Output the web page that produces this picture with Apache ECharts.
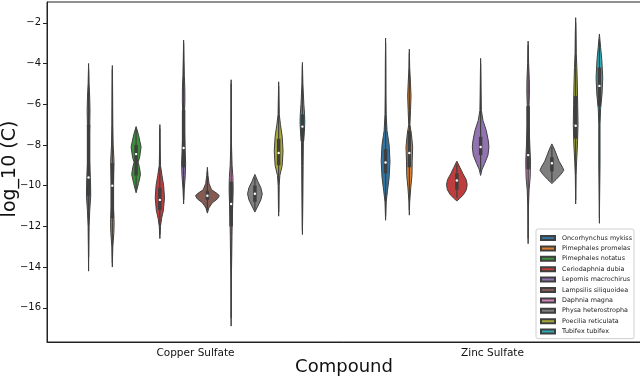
<!DOCTYPE html>
<html>
<head>
<meta charset="utf-8">
<script src="https://cdn.jsdelivr.net/npm/echarts@6/dist/echarts.min.js"></script>
<style>
    html, body { margin: 0; padding: 0; background: #fff; }
    #chart { width: 640px; height: 376px; }
</style>
</head>
<body>
<div id="chart"></div>
<script>
var compounds = ['Copper Sulfate', 'Zinc Sulfate']
var species = ['Oncorhynchus mykiss', 'Pimephales promelas', 'Pimephales notatus', 'Ceriodaphnia dubia',
    'Lepomis macrochirus', 'Lampsilis siliquoidea', 'Daphnia magna', 'Physa heterostropha',
    'Poecilia reticulata', 'Tubifex tubifex']
var yTicks = [-16, -14, -12, -10, -8, -6, -4, -2]

// violin outlines: [log_10 C, relative density width]
var copperShapes = [
    [[-4.0, 0], [-5.0, 0.04], [-5.6, 0.09], [-6.3, 0.12], [-7.0, 0.10], [-7.6, 0.06], [-8.5, 0.06], [-9.3, 0.12], [-10.0, 0.17], [-10.5, 0.18], [-11.2, 0.10], [-12.0, 0.04], [-13.0, 0.02], [-14.2, 0]],
    [[-4.1, 0], [-5.0, 0.02], [-6.0, 0.03], [-7.0, 0.04], [-8.0, 0.07], [-8.8, 0.14], [-9.3, 0.12], [-10.0, 0.09], [-11.0, 0.09], [-11.8, 0.15], [-12.3, 0.13], [-13.0, 0.04], [-14.0, 0]],
    [[-7.1, 0], [-7.5, 0.2], [-8.1, 0.42], [-8.6, 0.3], [-8.85, 0.17], [-9.1, 0.28], [-9.45, 0.37], [-9.9, 0.2], [-10.35, 0]],
    [[-7.0, 0], [-8.0, 0.02], [-9.0, 0.05], [-9.5, 0.18], [-10.0, 0.32], [-10.6, 0.39], [-11.2, 0.30], [-11.6, 0.15], [-12.0, 0.05], [-12.6, 0]],
    [[-2.85, 0], [-3.8, 0.03], [-4.6, 0.06], [-5.2, 0.10], [-5.8, 0.11], [-6.5, 0.07], [-7.3, 0.07], [-8.2, 0.12], [-8.9, 0.17], [-9.5, 0.14], [-10.2, 0.05], [-10.9, 0]],
    [[-9.1, 0], [-9.5, 0.05], [-9.9, 0.14], [-10.2, 0.35], [-10.4, 0.85], [-10.5, 1.0], [-10.65, 0.85], [-10.85, 0.4], [-11.1, 0.12], [-11.35, 0]],
    [[-4.8, 0], [-6.0, 0.01], [-7.0, 0.02], [-8.0, 0.03], [-9.0, 0.08], [-9.6, 0.15], [-10.2, 0.17], [-10.8, 0.14], [-11.5, 0.10], [-12.5, 0.07], [-13.5, 0.05], [-14.5, 0.02], [-15.5, 0.01], [-16.9, 0]],
    [[-9.45, 0], [-9.8, 0.25], [-10.1, 0.5], [-10.4, 0.62], [-10.7, 0.5], [-11.0, 0.25], [-11.3, 0]],
    [[-4.9, 0], [-5.5, 0.02], [-6.5, 0.05], [-7.0, 0.15], [-7.6, 0.30], [-8.3, 0.37], [-9.0, 0.30], [-9.5, 0.10], [-10.0, 0.04], [-11.0, 0.02], [-11.5, 0]],
    [[-3.95, 0], [-5.0, 0.04], [-6.0, 0.12], [-6.5, 0.18], [-6.9, 0.20], [-7.4, 0.16], [-7.9, 0.08], [-9.0, 0.06], [-10.5, 0.04], [-11.5, 0.02], [-12.4, 0]]
]
var zincShapes = [
    [[-2.75, 0], [-4.0, 0.02], [-5.5, 0.03], [-6.5, 0.05], [-7.3, 0.12], [-8.0, 0.30], [-8.8, 0.37], [-9.6, 0.30], [-10.3, 0.15], [-10.8, 0.05], [-11.7, 0]],
    [[-3.3, 0], [-4.2, 0.03], [-5.0, 0.10], [-5.6, 0.14], [-6.3, 0.10], [-7.0, 0.05], [-7.5, 0.18], [-8.1, 0.28], [-8.8, 0.24], [-9.5, 0.22], [-10.1, 0.12], [-10.8, 0.03], [-11.45, 0]],
    null,
    [[-8.8, 0], [-9.1, 0.25], [-9.4, 0.5], [-9.7, 0.78], [-9.95, 0.87], [-10.2, 0.8], [-10.45, 0.55], [-10.65, 0.2], [-10.75, 0]],
    [[-3.75, 0], [-4.5, 0.02], [-5.5, 0.04], [-6.3, 0.06], [-6.8, 0.2], [-7.3, 0.48], [-7.8, 0.65], [-8.1, 0.7], [-8.5, 0.62], [-8.9, 0.35], [-9.2, 0.12], [-9.5, 0]],
    null,
    [[-2.9, 0], [-4.0, 0.04], [-4.8, 0.10], [-5.4, 0.11], [-6.0, 0.08], [-7.0, 0.07], [-8.0, 0.14], [-8.8, 0.20], [-9.6, 0.17], [-10.2, 0.08], [-11.0, 0.03], [-12.0, 0.01], [-12.85, 0]],
    [[-7.95, 0], [-8.2, 0.2], [-8.5, 0.4], [-8.8, 0.6], [-9.1, 0.9], [-9.25, 1.0], [-9.45, 0.75], [-9.7, 0.35], [-9.9, 0]],
    [[-1.75, 0], [-2.5, 0.03], [-3.5, 0.05], [-4.2, 0.10], [-5.0, 0.14], [-6.0, 0.17], [-7.0, 0.20], [-8.0, 0.15], [-8.8, 0.08], [-9.5, 0.03], [-10.9, 0]],
    [[-2.55, 0], [-3.2, 0.10], [-3.8, 0.20], [-4.7, 0.28], [-5.5, 0.22], [-6.2, 0.10], [-7.0, 0.05], [-8.0, 0.05], [-9.0, 0.05], [-10.0, 0.03], [-11.0, 0.01], [-11.85, 0]]
]

// inner box: [whisker low, q1, median, q3, whisker high]
var copperBoxes = [
    [-13.5, -10.5, -9.6, -7.0, -4.3],
    [-13.8, -11.6, -10.0, -8.9, -4.3],
    [-10.2, -9.5, -8.45, -8.0, -7.2],
    [-12.4, -11.2, -10.7, -10.1, -7.2],
    [-10.7, -9.1, -8.15, -6.3, -3.0],
    [-11.2, -10.7, -10.5, -10.25, -9.3],
    [-16.5, -12.0, -10.9, -9.8, -5.0],
    [-11.2, -10.8, -10.4, -10.0, -9.6],
    [-11.3, -9.0, -8.4, -7.7, -5.1],
    [-12.2, -7.8, -7.1, -6.5, -4.1]
]
var zincBoxes = [
    [-11.5, -9.4, -8.86, -8.2, -3.0],
    [-11.2, -9.1, -8.4, -7.3, -3.5],
    null,
    [-10.6, -10.2, -9.75, -9.4, -8.95],
    [-9.3, -8.5, -8.1, -7.6, -4.0],
    null,
    [-12.6, -9.2, -8.5, -6.1, -3.1],
    [-9.8, -9.3, -8.9, -8.6, -8.1],
    [-10.7, -7.7, -7.06, -5.6, -2.0],
    [-11.6, -6.1, -5.1, -4.2, -2.8]
]

var colors = ['#3274a1', '#e1812c', '#3a923a', '#c03d3e', '#9372b2', '#845b53', '#d684bd', '#7f7f7f', '#a9aa35', '#2eabb8']
var edge = '#3f3f3f'
var shapesBy = [copperShapes, zincShapes]
var boxesBy = [copperBoxes, zincBoxes]

function renderViolin(params, api) {
    var ci = api.value(0)
    var si = params.seriesIndex
    var shape = shapesBy[ci][si]
    var box = boxesBy[ci][si]
    var band = api.size([1, 0])[0]
    var slot = band * 0.8 / species.length
    var cx = api.coord([ci, 0])[0] + (si - (species.length - 1) / 2) * slot
    var half = slot / 2
    var right = [], left = []
    shape.forEach(function (p) {
        var y = api.coord([ci, p[0]])[1]
        right.push([cx + p[1] * half, y])
        left.unshift([cx - p[1] * half, y])
    })
    var yOf = function (v) { return api.coord([ci, v])[1] }
    return {
        type: 'group',
        children: [
            {type: 'polygon', shape: {points: right.concat(left)}, style: {fill: colors[si], stroke: edge, lineWidth: 1}},
            {type: 'line', shape: {x1: cx, y1: yOf(box[0]), x2: cx, y2: yOf(box[4])}, style: {stroke: edge, lineWidth: 1.2}},
            {type: 'line', shape: {x1: cx, y1: yOf(box[1]), x2: cx, y2: yOf(box[3])}, style: {stroke: edge, lineWidth: 3.5}},
            {type: 'circle', shape: {cx: cx, cy: yOf(box[2]), r: 1.2}, style: {fill: '#fff'}}
        ]
    }
}

var series = species.map(function (name, si) {
    var data = []
    compounds.forEach(function (c, ci) {
        if (shapesBy[ci][si]) data.push([ci, boxesBy[ci][si][2]])
    })
    return {
        name: name,
        type: 'custom',
        renderItem: renderViolin,
        itemStyle: {color: colors[si], borderColor: edge, borderWidth: 0.6},
        encode: {x: 0, y: 1},
        data: data
    }
})

var chart = echarts.init(document.getElementById('chart'))
var option = {
    animation: false,
    grid: {
        left: 47, right: -1, top: 2, bottom: 34,
        containLabel: false,
        outerBoundsMode: 'none',
        show: true, borderColor: '#222', borderWidth: 1
    },
    legend: {
        orient: 'vertical',
        left: 536, top: 229,
        data: species,
        icon: 'rect',
        itemWidth: 14, itemHeight: 4,
        itemGap: 2.4,
        padding: [5, 2, 3, 4],
        backgroundColor: '#fff',
        borderColor: '#d0d0d0', borderWidth: 1, borderRadius: 2,
        textStyle: {fontFamily: 'DejaVu Sans', fontSize: 6.4, color: '#222', padding: [0, 0, 0, 2], lineHeight: 8}
    },
    xAxis: {
        type: 'category',
        data: compounds,
        name: 'Compound',
        nameLocation: 'middle',
        nameGap: 16,
        nameMoveOverlap: false,
        nameTextStyle: {fontFamily: 'DejaVu Sans', fontSize: 18, color: '#111'},
        axisLine: {lineStyle: {color: '#222', width: 1}},
        axisTick: {alignWithLabel: true, length: 4, lineStyle: {color: '#222'}},
        axisLabel: {fontFamily: 'DejaVu Sans', fontSize: 10.5, color: '#111', margin: 6},
        splitLine: {show: false}
    },
    yAxis: {
        type: 'value',
        min: -17.68,
        max: -0.98,
        name: 'log_10 (C)',
        nameLocation: 'middle',
        nameGap: 27,
        nameMoveOverlap: false,
        nameTextStyle: {fontFamily: 'DejaVu Sans', fontSize: 19, color: '#111', padding: [0, 0, 0, 6]},
        axisLine: {show: true, lineStyle: {color: '#222', width: 1}},
        axisTick: {show: true, length: 4, customValues: yTicks, lineStyle: {color: '#222'}},
        axisLabel: {
            customValues: yTicks,
            fontFamily: 'DejaVu Sans', fontSize: 10, color: '#111', margin: 6,
            formatter: function (v) { return String(v).replace('-', '\u2212') }
        },
        splitLine: {show: false}
    },
    series: series
}
chart.setOption(option)
</script>
</body>
</html>
